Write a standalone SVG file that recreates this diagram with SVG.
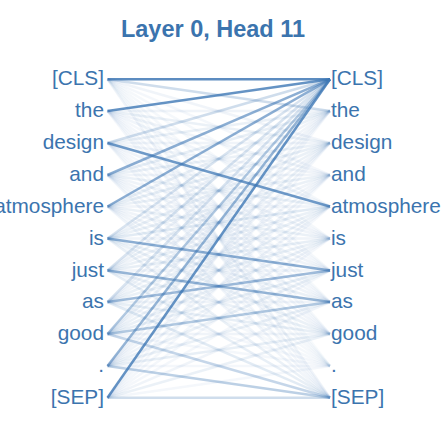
<svg xmlns="http://www.w3.org/2000/svg" width="448" height="426" viewBox="0 0 448 426">
<style>
.t{font-family:"Liberation Sans",Arial,Helvetica,sans-serif;font-size:20.8px;fill:#3b74ae}
.l{text-anchor:end}
.title{font-family:"Liberation Sans",Arial,Helvetica,sans-serif;font-size:23.5px;font-weight:bold;fill:#3b74ae;text-anchor:middle}
#connectors line{stroke:#3f78b5;stroke-width:2.5;stroke-linecap:butt}
</style>
<rect width="448" height="426" fill="#fff"/>
<text class="title" x="213" y="37">Layer 0, Head 11</text>
<g id="connectors">
<!-- row 0 [CLS] y=79.3 -->
<line x1="107.5" y1="79.3" x2="330" y2="79.3" stroke-opacity="0.85"/>
<line x1="107.5" y1="79.3" x2="330" y2="111" stroke-opacity="0.25"/>
<line x1="107.5" y1="79.3" x2="330" y2="143" stroke-opacity="0.08"/>
<line x1="107.5" y1="79.3" x2="330" y2="175" stroke-opacity="0.06"/>
<line x1="107.5" y1="79.3" x2="330" y2="206.5" stroke-opacity="0.05"/>
<line x1="107.5" y1="79.3" x2="330" y2="238.5" stroke-opacity="0.05"/>
<line x1="107.5" y1="79.3" x2="330" y2="270.5" stroke-opacity="0.05"/>
<line x1="107.5" y1="79.3" x2="330" y2="302" stroke-opacity="0.05"/>
<line x1="107.5" y1="79.3" x2="330" y2="334" stroke-opacity="0.05"/>
<line x1="107.5" y1="79.3" x2="330" y2="366" stroke-opacity="0.04"/>
<line x1="107.5" y1="79.3" x2="330" y2="397.7" stroke-opacity="0.08"/>
<!-- row 1 the y=111 -->
<line x1="107.5" y1="111" x2="330" y2="79.3" stroke-opacity="0.8"/>
<line x1="107.5" y1="111" x2="330" y2="111" stroke-opacity="0.08"/>
<line x1="107.5" y1="111" x2="330" y2="143" stroke-opacity="0.1"/>
<line x1="107.5" y1="111" x2="330" y2="175" stroke-opacity="0.08"/>
<line x1="107.5" y1="111" x2="330" y2="206.5" stroke-opacity="0.07"/>
<line x1="107.5" y1="111" x2="330" y2="238.5" stroke-opacity="0.06"/>
<line x1="107.5" y1="111" x2="330" y2="270.5" stroke-opacity="0.06"/>
<line x1="107.5" y1="111" x2="330" y2="302" stroke-opacity="0.06"/>
<line x1="107.5" y1="111" x2="330" y2="334" stroke-opacity="0.06"/>
<line x1="107.5" y1="111" x2="330" y2="366" stroke-opacity="0.05"/>
<line x1="107.5" y1="111" x2="330" y2="397.7" stroke-opacity="0.06"/>
<!-- row 2 design y=143 -->
<line x1="107.5" y1="143" x2="330" y2="79.3" stroke-opacity="0.25"/>
<line x1="107.5" y1="143" x2="330" y2="111" stroke-opacity="0.1"/>
<line x1="107.5" y1="143" x2="330" y2="143" stroke-opacity="0.08"/>
<line x1="107.5" y1="143" x2="330" y2="175" stroke-opacity="0.08"/>
<line x1="107.5" y1="143" x2="330" y2="206.5" stroke-opacity="0.75"/>
<line x1="107.5" y1="143" x2="330" y2="238.5" stroke-opacity="0.08"/>
<line x1="107.5" y1="143" x2="330" y2="270.5" stroke-opacity="0.06"/>
<line x1="107.5" y1="143" x2="330" y2="302" stroke-opacity="0.06"/>
<line x1="107.5" y1="143" x2="330" y2="334" stroke-opacity="0.06"/>
<line x1="107.5" y1="143" x2="330" y2="366" stroke-opacity="0.05"/>
<line x1="107.5" y1="143" x2="330" y2="397.7" stroke-opacity="0.06"/>
<!-- row 3 and y=175 -->
<line x1="107.5" y1="175" x2="330" y2="79.3" stroke-opacity="0.6"/>
<line x1="107.5" y1="175" x2="330" y2="111" stroke-opacity="0.12"/>
<line x1="107.5" y1="175" x2="330" y2="143" stroke-opacity="0.1"/>
<line x1="107.5" y1="175" x2="330" y2="175" stroke-opacity="0.08"/>
<line x1="107.5" y1="175" x2="330" y2="206.5" stroke-opacity="0.1"/>
<line x1="107.5" y1="175" x2="330" y2="238.5" stroke-opacity="0.08"/>
<line x1="107.5" y1="175" x2="330" y2="270.5" stroke-opacity="0.08"/>
<line x1="107.5" y1="175" x2="330" y2="302" stroke-opacity="0.07"/>
<line x1="107.5" y1="175" x2="330" y2="334" stroke-opacity="0.07"/>
<line x1="107.5" y1="175" x2="330" y2="366" stroke-opacity="0.05"/>
<line x1="107.5" y1="175" x2="330" y2="397.7" stroke-opacity="0.07"/>
<!-- row 4 atmosphere y=206.5 -->
<line x1="107.5" y1="206.5" x2="330" y2="79.3" stroke-opacity="0.6"/>
<line x1="107.5" y1="206.5" x2="330" y2="111" stroke-opacity="0.1"/>
<line x1="107.5" y1="206.5" x2="330" y2="143" stroke-opacity="0.12"/>
<line x1="107.5" y1="206.5" x2="330" y2="175" stroke-opacity="0.1"/>
<line x1="107.5" y1="206.5" x2="330" y2="206.5" stroke-opacity="0.08"/>
<line x1="107.5" y1="206.5" x2="330" y2="238.5" stroke-opacity="0.1"/>
<line x1="107.5" y1="206.5" x2="330" y2="270.5" stroke-opacity="0.08"/>
<line x1="107.5" y1="206.5" x2="330" y2="302" stroke-opacity="0.08"/>
<line x1="107.5" y1="206.5" x2="330" y2="334" stroke-opacity="0.08"/>
<line x1="107.5" y1="206.5" x2="330" y2="366" stroke-opacity="0.05"/>
<line x1="107.5" y1="206.5" x2="330" y2="397.7" stroke-opacity="0.07"/>
<!-- row 5 is y=238.5 -->
<line x1="107.5" y1="238.5" x2="330" y2="79.3" stroke-opacity="0.2"/>
<line x1="107.5" y1="238.5" x2="330" y2="111" stroke-opacity="0.08"/>
<line x1="107.5" y1="238.5" x2="330" y2="143" stroke-opacity="0.1"/>
<line x1="107.5" y1="238.5" x2="330" y2="175" stroke-opacity="0.1"/>
<line x1="107.5" y1="238.5" x2="330" y2="206.5" stroke-opacity="0.15"/>
<line x1="107.5" y1="238.5" x2="330" y2="238.5" stroke-opacity="0.08"/>
<line x1="107.5" y1="238.5" x2="330" y2="270.5" stroke-opacity="0.6"/>
<line x1="107.5" y1="238.5" x2="330" y2="302" stroke-opacity="0.1"/>
<line x1="107.5" y1="238.5" x2="330" y2="334" stroke-opacity="0.1"/>
<line x1="107.5" y1="238.5" x2="330" y2="366" stroke-opacity="0.05"/>
<line x1="107.5" y1="238.5" x2="330" y2="397.7" stroke-opacity="0.1"/>
<!-- row 6 just y=270.5 -->
<line x1="107.5" y1="270.5" x2="330" y2="79.3" stroke-opacity="0.2"/>
<line x1="107.5" y1="270.5" x2="330" y2="111" stroke-opacity="0.08"/>
<line x1="107.5" y1="270.5" x2="330" y2="143" stroke-opacity="0.1"/>
<line x1="107.5" y1="270.5" x2="330" y2="175" stroke-opacity="0.08"/>
<line x1="107.5" y1="270.5" x2="330" y2="206.5" stroke-opacity="0.1"/>
<line x1="107.5" y1="270.5" x2="330" y2="238.5" stroke-opacity="0.12"/>
<line x1="107.5" y1="270.5" x2="330" y2="270.5" stroke-opacity="0.08"/>
<line x1="107.5" y1="270.5" x2="330" y2="302" stroke-opacity="0.55"/>
<line x1="107.5" y1="270.5" x2="330" y2="334" stroke-opacity="0.1"/>
<line x1="107.5" y1="270.5" x2="330" y2="366" stroke-opacity="0.05"/>
<line x1="107.5" y1="270.5" x2="330" y2="397.7" stroke-opacity="0.12"/>
<!-- row 7 as y=302 -->
<line x1="107.5" y1="302" x2="330" y2="79.3" stroke-opacity="0.2"/>
<line x1="107.5" y1="302" x2="330" y2="111" stroke-opacity="0.08"/>
<line x1="107.5" y1="302" x2="330" y2="143" stroke-opacity="0.08"/>
<line x1="107.5" y1="302" x2="330" y2="175" stroke-opacity="0.08"/>
<line x1="107.5" y1="302" x2="330" y2="206.5" stroke-opacity="0.1"/>
<line x1="107.5" y1="302" x2="330" y2="238.5" stroke-opacity="0.1"/>
<line x1="107.5" y1="302" x2="330" y2="270.5" stroke-opacity="0.5"/>
<line x1="107.5" y1="302" x2="330" y2="302" stroke-opacity="0.08"/>
<line x1="107.5" y1="302" x2="330" y2="334" stroke-opacity="0.12"/>
<line x1="107.5" y1="302" x2="330" y2="366" stroke-opacity="0.06"/>
<line x1="107.5" y1="302" x2="330" y2="397.7" stroke-opacity="0.15"/>
<!-- row 8 good y=334 -->
<line x1="107.5" y1="334" x2="330" y2="79.3" stroke-opacity="0.4"/>
<line x1="107.5" y1="334" x2="330" y2="111" stroke-opacity="0.08"/>
<line x1="107.5" y1="334" x2="330" y2="143" stroke-opacity="0.1"/>
<line x1="107.5" y1="334" x2="330" y2="175" stroke-opacity="0.08"/>
<line x1="107.5" y1="334" x2="330" y2="206.5" stroke-opacity="0.1"/>
<line x1="107.5" y1="334" x2="330" y2="238.5" stroke-opacity="0.1"/>
<line x1="107.5" y1="334" x2="330" y2="270.5" stroke-opacity="0.12"/>
<line x1="107.5" y1="334" x2="330" y2="302" stroke-opacity="0.4"/>
<line x1="107.5" y1="334" x2="330" y2="334" stroke-opacity="0.08"/>
<line x1="107.5" y1="334" x2="330" y2="366" stroke-opacity="0.06"/>
<line x1="107.5" y1="334" x2="330" y2="397.7" stroke-opacity="0.3"/>
<!-- row 9 . y=366 -->
<line x1="107.5" y1="366" x2="330" y2="79.3" stroke-opacity="0.55"/>
<line x1="107.5" y1="366" x2="330" y2="111" stroke-opacity="0.08"/>
<line x1="107.5" y1="366" x2="330" y2="143" stroke-opacity="0.08"/>
<line x1="107.5" y1="366" x2="330" y2="175" stroke-opacity="0.08"/>
<line x1="107.5" y1="366" x2="330" y2="206.5" stroke-opacity="0.08"/>
<line x1="107.5" y1="366" x2="330" y2="238.5" stroke-opacity="0.08"/>
<line x1="107.5" y1="366" x2="330" y2="270.5" stroke-opacity="0.1"/>
<line x1="107.5" y1="366" x2="330" y2="302" stroke-opacity="0.1"/>
<line x1="107.5" y1="366" x2="330" y2="334" stroke-opacity="0.12"/>
<line x1="107.5" y1="366" x2="330" y2="366" stroke-opacity="0.06"/>
<line x1="107.5" y1="366" x2="330" y2="397.7" stroke-opacity="0.35"/>
<!-- row 10 [SEP] y=397.7 -->
<line x1="107.5" y1="397.7" x2="330" y2="79.3" stroke-opacity="0.8"/>
<line x1="107.5" y1="397.7" x2="330" y2="111" stroke-opacity="0.06"/>
<line x1="107.5" y1="397.7" x2="330" y2="143" stroke-opacity="0.06"/>
<line x1="107.5" y1="397.7" x2="330" y2="175" stroke-opacity="0.06"/>
<line x1="107.5" y1="397.7" x2="330" y2="206.5" stroke-opacity="0.06"/>
<line x1="107.5" y1="397.7" x2="330" y2="238.5" stroke-opacity="0.06"/>
<line x1="107.5" y1="397.7" x2="330" y2="270.5" stroke-opacity="0.06"/>
<line x1="107.5" y1="397.7" x2="330" y2="302" stroke-opacity="0.08"/>
<line x1="107.5" y1="397.7" x2="330" y2="334" stroke-opacity="0.1"/>
<line x1="107.5" y1="397.7" x2="330" y2="366" stroke-opacity="0.06"/>
<line x1="107.5" y1="397.7" x2="330" y2="397.7" stroke-opacity="0.25"/>
</g>
<g id="left-tokens">
<g id="l0"><text class="t l" x="104" y="85.3">[CLS]</text></g>
<g id="l1"><text class="t l" x="104" y="117">the</text></g>
<g id="l2"><text class="t l" x="104" y="149">design</text></g>
<g id="l3"><text class="t l" x="104" y="181">and</text></g>
<g id="l4"><text class="t l" x="104" y="212.5">atmosphere</text></g>
<g id="l5"><text class="t l" x="104" y="244.5">is</text></g>
<g id="l6"><text class="t l" x="104" y="276.5">just</text></g>
<g id="l7"><text class="t l" x="104" y="308">as</text></g>
<g id="l8"><text class="t l" x="104" y="340">good</text></g>
<g id="l9"><text class="t l" x="104" y="372">.</text></g>
<g id="l10"><text class="t l" x="104" y="403.7">[SEP]</text></g>
</g>
<g id="right-tokens">
<g id="r0"><text class="t" x="331" y="85.3">[CLS]</text></g>
<g id="r1"><text class="t" x="331" y="117">the</text></g>
<g id="r2"><text class="t" x="331" y="149">design</text></g>
<g id="r3"><text class="t" x="331" y="181">and</text></g>
<g id="r4"><text class="t" x="331" y="212.5">atmosphere</text></g>
<g id="r5"><text class="t" x="331" y="244.5">is</text></g>
<g id="r6"><text class="t" x="331" y="276.5">just</text></g>
<g id="r7"><text class="t" x="331" y="308">as</text></g>
<g id="r8"><text class="t" x="331" y="340">good</text></g>
<g id="r9"><text class="t" x="331" y="372">.</text></g>
<g id="r10"><text class="t" x="331" y="403.7">[SEP]</text></g>
</g>
</svg>
